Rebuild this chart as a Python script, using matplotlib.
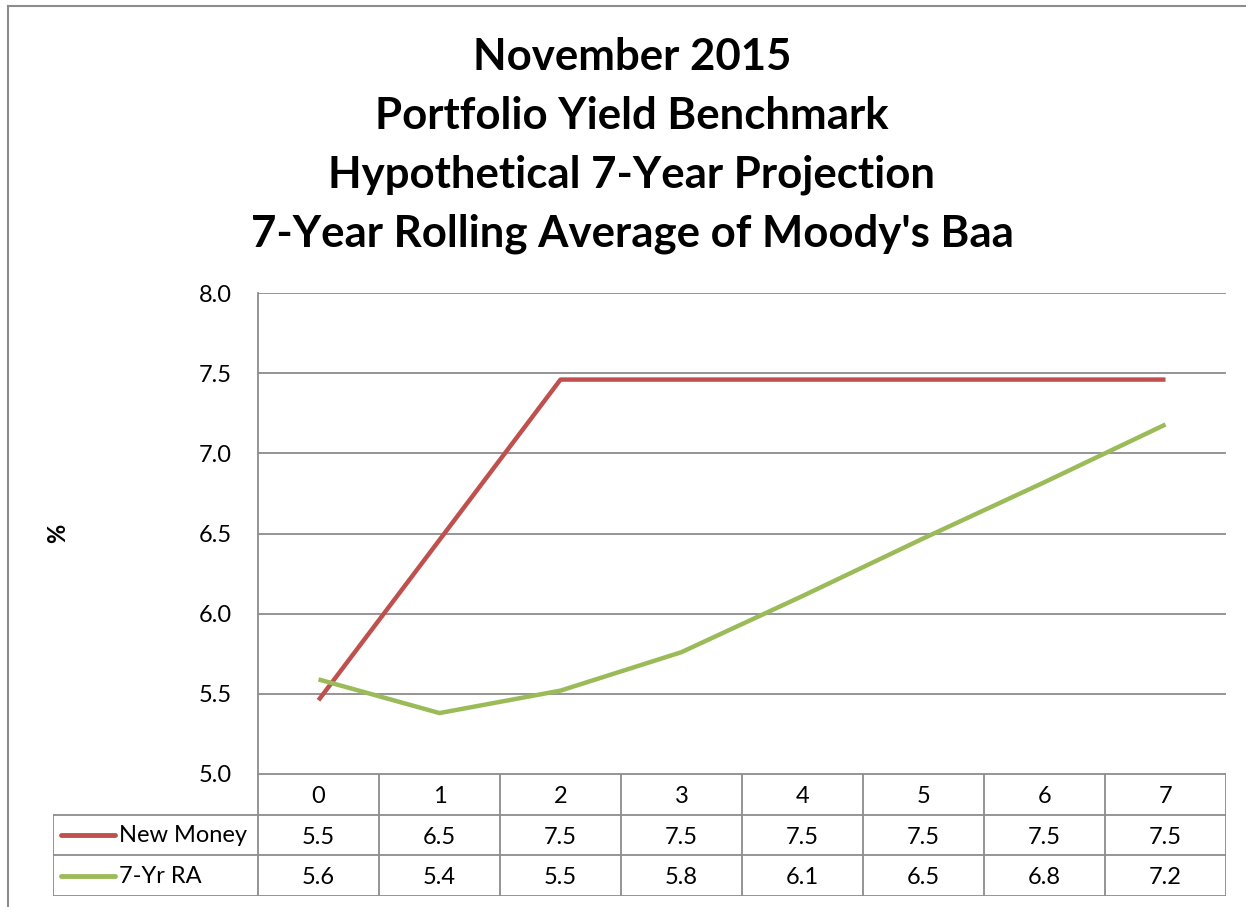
import matplotlib.pyplot as plt
from matplotlib.lines import Line2D

plt.rcParams['font.family'] = ['Lato', 'DejaVu Sans']

years = [0, 1, 2, 3, 4, 5, 6, 7]
new_money = [5.46, 6.46, 7.46, 7.46, 7.46, 7.46, 7.46, 7.46]
rolling_avg = [5.59, 5.38, 5.52, 5.76, 6.11, 6.47, 6.82, 7.18]
series_names = ["New Money", "7-Yr RA"]
series_colors = ["#C0504D", "#9BBB59"]
title_lines = ["November 2015", "Portfolio Yield Benchmark",
               "Hypothetical 7-Year Projection", "7-Year Rolling Average of Moody's Baa"]

W, H = 1246, 907
fig = plt.figure(figsize=(W / 100, H / 100), dpi=100)
grid_c = "#8C8C8C"
fs = 17

def px_rect(x0, y0, x1, y1):
    return [x0 / W, 1 - y1 / H, (x1 - x0) / W, (y1 - y0) / H]

# outer chart border (top and left visible)
fig.add_artist(Line2D([8 / W, 1], [1 - 6 / H, 1 - 6 / H], color=grid_c, lw=1.5))
fig.add_artist(Line2D([8 / W, 8 / W], [0, 1 - 6 / H], color=grid_c, lw=1.5))

for i, t in enumerate(title_lines):
    fig.text(632 / W, 1 - (57 + 59 * i) / H, t, ha="center", va="center",
             fontsize=31.5, fontweight="bold")

ax = fig.add_axes(px_rect(258, 293, 1226, 774))
ax.plot(years, new_money, color=series_colors[0], lw=3.2, solid_capstyle="butt")
ax.plot(years, rolling_avg, color=series_colors[1], lw=3.2, solid_capstyle="butt")
ax.set_xlim(-0.5, 7.5)
ax.set_ylim(5.0, 8.0)
ax.set_yticks([5.0, 5.5, 6.0, 6.5, 7.0, 7.5, 8.0])
ax.set_yticklabels([f"{v:.1f}" for v in ax.get_yticks()], fontsize=fs)
ax.set_xticks([])
ax.tick_params(axis="y", length=0, pad=19)
ax.grid(axis="y", color=grid_c, lw=1.3)
ax.set_axisbelow(True)
for s in ["top", "right", "bottom"]:
    ax.spines[s].set_visible(False)
ax.spines["left"].set_color(grid_c)
ax.spines["left"].set_linewidth(1.3)
fig.text(58 / W, 1 - 533 / H, "%", rotation=90, ha="center", va="center",
         fontsize=17, fontweight="bold")

# data table below the plot
x_left = -0.5 - 205 * 8 / 968
px = 8 / 968
tab = fig.add_axes(px_rect(53, 774, 1226, 896))
tab.set_xlim(x_left, 7.5)
tab.set_ylim(3, 0)
tab.axis("off")
lk = dict(color=grid_c, lw=1.3)
# header row: only category columns
for c in range(9):
    tab.plot([c - 0.5, c - 0.5], [0, 3], **lk)
tab.plot([-0.5, 7.5], [0, 0], **lk)
for r in [1, 2, 3]:
    tab.plot([x_left, 7.5], [r, r], **lk)
tab.plot([x_left, x_left], [1, 3], **lk)
for c, yr in enumerate(years):
    tab.text(c, 0.55, str(yr), ha="center", va="center", fontsize=fs)
    tab.text(c, 1.55, f"{new_money[c]:.1f}", ha="center", va="center", fontsize=fs)
    tab.text(c, 2.55, f"{rolling_avg[c]:.1f}", ha="center", va="center", fontsize=fs)
for r, (name, col) in enumerate(zip(series_names, series_colors)):
    tab.plot([x_left + 8 * px, x_left + 62 * px], [1.5 + r, 1.5 + r], color=col,
             lw=3.5, solid_capstyle="round")
    tab.text(x_left + 66 * px, 1.52 + r, name, ha="left", va="center", fontsize=fs)

fig.savefig("out.png", dpi=100)
